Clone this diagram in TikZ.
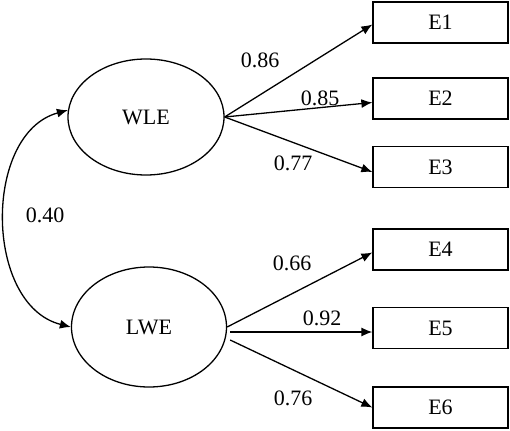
\documentclass[tikz,border=0pt]{standalone}
\usepackage{fontspec}
\setmainfont{Liberation Serif}
\usetikzlibrary{shapes.geometric,arrows.meta}

\tikzset{
  latent/.style={draw, ellipse, line width=1.3pt, minimum width=156pt, minimum height=116pt, inner sep=0pt},
  item/.style={draw, rectangle, line width=1.3pt, minimum width=135pt, minimum height=41pt, inner sep=0pt},
  load/.style={line width=1.3pt, -{Latex[length=11pt,width=9pt]}},
  coef/.style={inner sep=0pt}
}

\begin{document}
\begin{tikzpicture}[x=1pt,y=-1pt,font=\fontsize{22}{26}\selectfont]
\useasboundingbox (0,0) rectangle (510,430);

% ---------- factors ----------
\node[latent] (wle) at (146,117) {WLE};
\node[latent, minimum width=155pt, minimum height=120pt] (lwe) at (149,327) {LWE};

% ---------- indicators ----------
\node[item] (e1) at (440.5,22.5) {E1};
\node[item] (e2) at (440.5,98.5) {E2};
\node[item] (e3) at (440.5,167) {E3};
\node[item] (e4) at (440.5,249.5) {E4};
\node[item] (e5) at (440.5,328) {E5};
\node[item] (e6) at (440.5,407.5) {E6};

% ---------- loadings ----------
\draw[load] (wle.east) -- ([yshift=-2pt]e1.west);
\draw[load] (wle.east) -- ([yshift=-4pt]e2.west);
\draw[load] (wle.east) -- ([yshift=-5pt]e3.west);
\draw[load] (lwe.east) -- ([yshift=-3pt]e4.west);
\draw[load] ([shift={(3,5)}]lwe.east) -- ([yshift=-4pt]e5.west);
\draw[load] ([shift={(3,13)}]lwe.east) -- (e6.west);

\node[coef] (l1) at (260,60) {0.86};
\node[coef] (l2) at (320,98) {0.85};
\node[coef] (l3) at (293,163) {0.77};
\node[coef] (l4) at (292,263) {0.66};
\node[coef] (l5) at (322,318) {0.92};
\node[coef] (l6) at (293,398) {0.76};

% ---------- correlation ----------
\draw[line width=1.3pt, {Latex[length=11pt,width=9pt]}-{Latex[length=11pt,width=9pt]}]
  (wle.175) .. controls +(-85,23) and +(-87,-22) .. (lwe.west);
\node[coef] (r) at (45,215) {0.40};

\end{tikzpicture}
\end{document}
